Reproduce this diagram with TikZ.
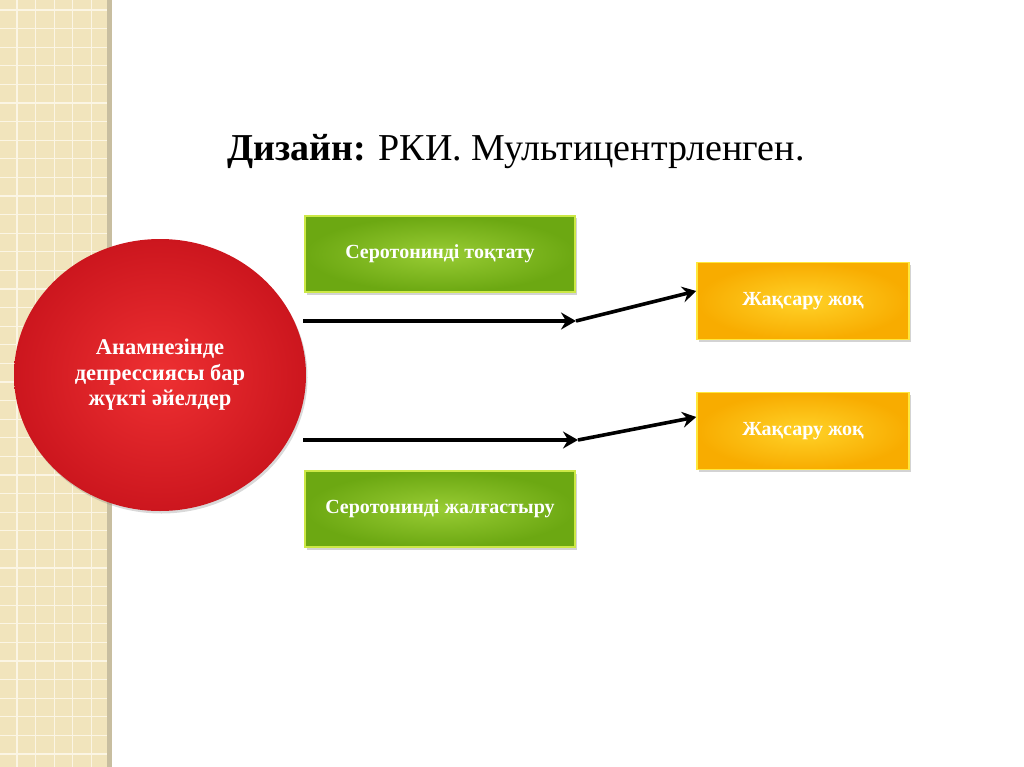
\documentclass[tikz,border=0pt]{standalone}
\usepackage{fontspec}
\setmainfont{Liberation Serif}
\usetikzlibrary{arrows.meta,positioning,shapes.geometric,shadows,calc}
\definecolor{StripBeige}{RGB}{241,228,188}
\definecolor{StripLine}{RGB}{251,245,228}
\definecolor{StripEdge}{RGB}{200,190,160}
\definecolor{RedOut}{RGB}{204,22,30}
\definecolor{RedIn}{RGB}{238,48,50}
\definecolor{GreenOut}{RGB}{108,168,18}
\definecolor{GreenIn}{RGB}{152,204,52}
\definecolor{GreenRim}{RGB}{204,232,70}
\definecolor{GoldOut}{RGB}{248,172,0}
\definecolor{GoldIn}{RGB}{255,210,40}
\definecolor{GoldRim}{RGB}{255,232,60}

\tikzset{
  boxshadow/.style={drop shadow={shadow xshift=1.5pt,shadow yshift=-2.5pt,opacity=.35}},
  greenbox/.style={rectangle,draw=GreenRim,line width=1.5pt,inner color=GreenIn,outer color=GreenOut,
    minimum width=270pt,minimum height=76pt,text=white,font=\fontsize{20}{24}\selectfont\bfseries,boxshadow},
  goldbox/.style={rectangle,draw=GoldRim,line width=1.5pt,inner color=GoldIn,outer color=GoldOut,
    minimum width=212pt,minimum height=77pt,text=white,font=\fontsize{20}{24}\selectfont\bfseries,boxshadow},
  thickarrow/.style={->,line width=4.6pt,>={Stealth[length=15pt,width=17pt,inset=5pt]}},
  slantarrow/.style={->,line width=3.6pt,>={Stealth[length=14pt,width=16pt,inset=5pt]}}
}

\begin{document}
\begin{tikzpicture}[x=1pt,y=-1pt]
  \useasboundingbox (0,0) rectangle (1024,767);
  % left strip
  \fill[StripBeige] (0,0) rectangle (107,767);
  \foreach \k in {0,...,41}
    \draw[StripLine,line width=1.2pt] (0,{10+18.6*\k}) -- (107,{10+18.6*\k});
  \foreach \k in {0,...,5}
    \draw[StripLine,line width=1.2pt] ({17+18.6*\k},0) -- ({17+18.6*\k},767);
  \fill[StripEdge] (107,0) rectangle (112,767);

  % title
  \node[anchor=base,font=\fontsize{38}{46}\selectfont] (title) at (516,161)
    {\textbf{Дизайн:} РКИ. Мультицентрленген.};

  % circle
  \node[ellipse,minimum width=292pt,minimum height=272pt,inner color=RedIn,outer color=RedOut,
    text=white,align=center,font=\fontsize{22.5}{25.5}\selectfont\bfseries,
    drop shadow={shadow xshift=1.5pt,shadow yshift=-2.5pt,opacity=.3}] (women) at (160,375)
    {Анамнезінде\\депрессиясы бар\\жүкті әйелдер};

  % boxes
  \node[greenbox] (stop) at (440,254) {Серотонинді тоқтату};
  \node[greenbox] (cont) at (440,509) {Серотонинді жалғастыру};
  \node[goldbox] (res1) at (803,301) {Жақсару жоқ};
  \node[goldbox] (res2) at (803,431) {Жақсару жоқ};

  % arrows
  \coordinate (s1) at (303,321);
  \coordinate (k1) at (576,321);
  \coordinate (s2) at (303,440);
  \coordinate (k2) at (578,440);
  \draw[thickarrow] (s1) -- (k1);
  \draw[thickarrow] (s2) -- (k2);
  \draw[slantarrow] (k1) -- ($(res1.west)+(0,-10)$);
  \draw[slantarrow] (k2) -- ($(res2.west)+(0,-14)$);
\end{tikzpicture}
\end{document}
